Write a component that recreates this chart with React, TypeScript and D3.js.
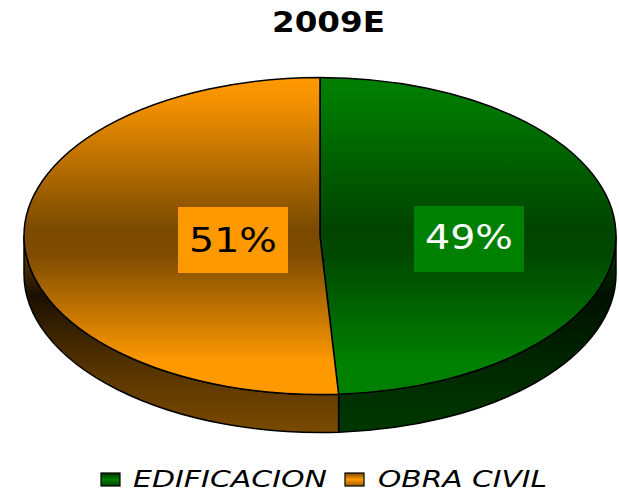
import React from "react";
import * as d3 from "d3";

const categories = ["EDIFICACION", "OBRA CIVIL"];
const values = [49, 51];
const labels = ["49%", "51%"];
const title = "2009E";

const W = 619;
const H = 491;
const cx = 320;
const cy = 236;
const rx = 296;
const ry = 158.5;
const depth = 38;

const topFill = ["url(#gTopG)", "url(#gTopO)"];
const sideFill = ["url(#gSideG)", "url(#gSideO)"];
const boxFill = ["#008000", "#FF9900"];
const textFill = ["#FFFFFF", "#000000"];

function pt(a: number, dy = 0): [number, number] {
  return [cx + rx * Math.sin(a), cy - ry * Math.cos(a) + dy];
}

function topPath(a0: number, a1: number) {
  const p0 = pt(a0);
  const p1 = pt(a1);
  const large = a1 - a0 > Math.PI ? 1 : 0;
  return `M${cx},${cy}L${p0[0]},${p0[1]}A${rx},${ry} 0 ${large} 1 ${p1[0]},${p1[1]}Z`;
}

function sidePath(a0: number, a1: number) {
  const s = Math.max(a0, Math.PI / 2);
  const e = Math.min(a1, (3 * Math.PI) / 2);
  if (e <= s) return null;
  const p0 = pt(s);
  const p1 = pt(e);
  const q1 = pt(e, depth);
  const q0 = pt(s, depth);
  return `M${p0[0]},${p0[1]}A${rx},${ry} 0 0 1 ${p1[0]},${p1[1]}L${q1[0]},${q1[1]}A${rx},${ry} 0 0 0 ${q0[0]},${q0[1]}Z`;
}

// label box geometry
const boxCenters: [number, number][] = [
  [469, 239],
  [233, 240],
];

export default function App() {
  const pie = d3
    .pie<number>()
    .sort(null)
    .startAngle(0)
    .endAngle(2 * Math.PI)
    .value((d) => d);
  const arcs = pie(values);

  return (
    <svg
      width={W}
      height={H}
      style={{ position: "absolute", left: 0, top: 0, background: "#fff" }}
      fontFamily="'DejaVu Sans', Verdana, sans-serif"
    >
      <defs>
        <linearGradient id="gTopO" gradientUnits="userSpaceOnUse" x1="0" y1={cy - ry} x2="0" y2={cy + ry}>
          <stop offset="0" stopColor="#FF9900" />
          <stop offset="0.08" stopColor="#F29000" />
          <stop offset="0.48" stopColor="#7A4A00" />
          <stop offset="0.56" stopColor="#7E4C00" />
          <stop offset="0.9" stopColor="#FF9900" />
          <stop offset="1" stopColor="#FF9900" />
        </linearGradient>
        <linearGradient id="gTopG" gradientUnits="userSpaceOnUse" x1="0" y1={cy - ry} x2="0" y2={cy + ry}>
          <stop offset="0" stopColor="#008000" />
          <stop offset="0.08" stopColor="#007800" />
          <stop offset="0.48" stopColor="#004400" />
          <stop offset="0.56" stopColor="#004800" />
          <stop offset="0.9" stopColor="#008000" />
          <stop offset="1" stopColor="#008000" />
        </linearGradient>
        <linearGradient id="gSideO" gradientUnits="userSpaceOnUse" x1="0" y1={cy} x2="0" y2={cy + ry + depth}>
          <stop offset="0" stopColor="#7A4A00" />
          <stop offset="0.3" stopColor="#1C1000" />
          <stop offset="0.7" stopColor="#5A3600" />
          <stop offset="1" stopColor="#7A4A00" />
        </linearGradient>
        <linearGradient id="gSideG" gradientUnits="userSpaceOnUse" x1="0" y1={cy} x2="0" y2={cy + ry + depth}>
          <stop offset="0" stopColor="#004000" />
          <stop offset="0.3" stopColor="#001000" />
          <stop offset="0.7" stopColor="#002A00" />
          <stop offset="1" stopColor="#003800" />
        </linearGradient>
        <linearGradient id="gLegG" x1="0" y1="0" x2="0" y2="1">
          <stop offset="0" stopColor="#003000" />
          <stop offset="0.5" stopColor="#008000" />
          <stop offset="1" stopColor="#004000" />
        </linearGradient>
        <linearGradient id="gLegO" x1="0" y1="0" x2="0" y2="1">
          <stop offset="0" stopColor="#7A4A00" />
          <stop offset="0.5" stopColor="#FF9900" />
          <stop offset="1" stopColor="#9A5E00" />
        </linearGradient>
      </defs>

      <text
        x={272}
        y={31.5}
        fontSize={28}
        fontWeight="bold"
        textLength={113}
        lengthAdjust="spacingAndGlyphs"
        fill="#000"
      >
        {title}
      </text>

      {arcs.map((a, i) => {
        const d = sidePath(a.startAngle, a.endAngle);
        return d ? (
          <path key={"s" + i} d={d} fill={sideFill[i]} stroke="#000" strokeWidth={1.5} strokeLinejoin="round" />
        ) : null;
      })}
      {arcs.map((a, i) => (
        <path
          key={"t" + i}
          d={topPath(a.startAngle, a.endAngle)}
          fill={topFill[i]}
          stroke="#000"
          strokeWidth={1.5}
          strokeLinejoin="round"
        />
      ))}

      {arcs.map((a, i) => {
        const [bx, by] = boxCenters[i];
        return (
          <g key={"l" + i}>
            <rect x={bx - 55} y={by - 33} width={110} height={66} fill={boxFill[i]} />
            <text
              x={bx - 44}
              y={by + (i === 0 ? 10 : 12)}
              fontSize={33}
              textLength={88}
              lengthAdjust="spacingAndGlyphs"
              fill={textFill[i]}
            >
              {labels[i]}
            </text>
          </g>
        );
      })}

      {/* legend */}
      <rect x={101} y={473} width={19} height={13} fill="url(#gLegG)" stroke="#000" strokeWidth={1.2} />
      <text x={133} y={486.5} fontSize={23} fontStyle="italic" textLength={194} lengthAdjust="spacingAndGlyphs" fill="#000">
        {categories[0]}
      </text>
      <rect x={345} y={473} width={19} height={13} fill="url(#gLegO)" stroke="#000" strokeWidth={1.2} />
      <text x={378} y={486.5} fontSize={23} fontStyle="italic" textLength={169} lengthAdjust="spacingAndGlyphs" fill="#000">
        {categories[1]}
      </text>
    </svg>
  );
}
